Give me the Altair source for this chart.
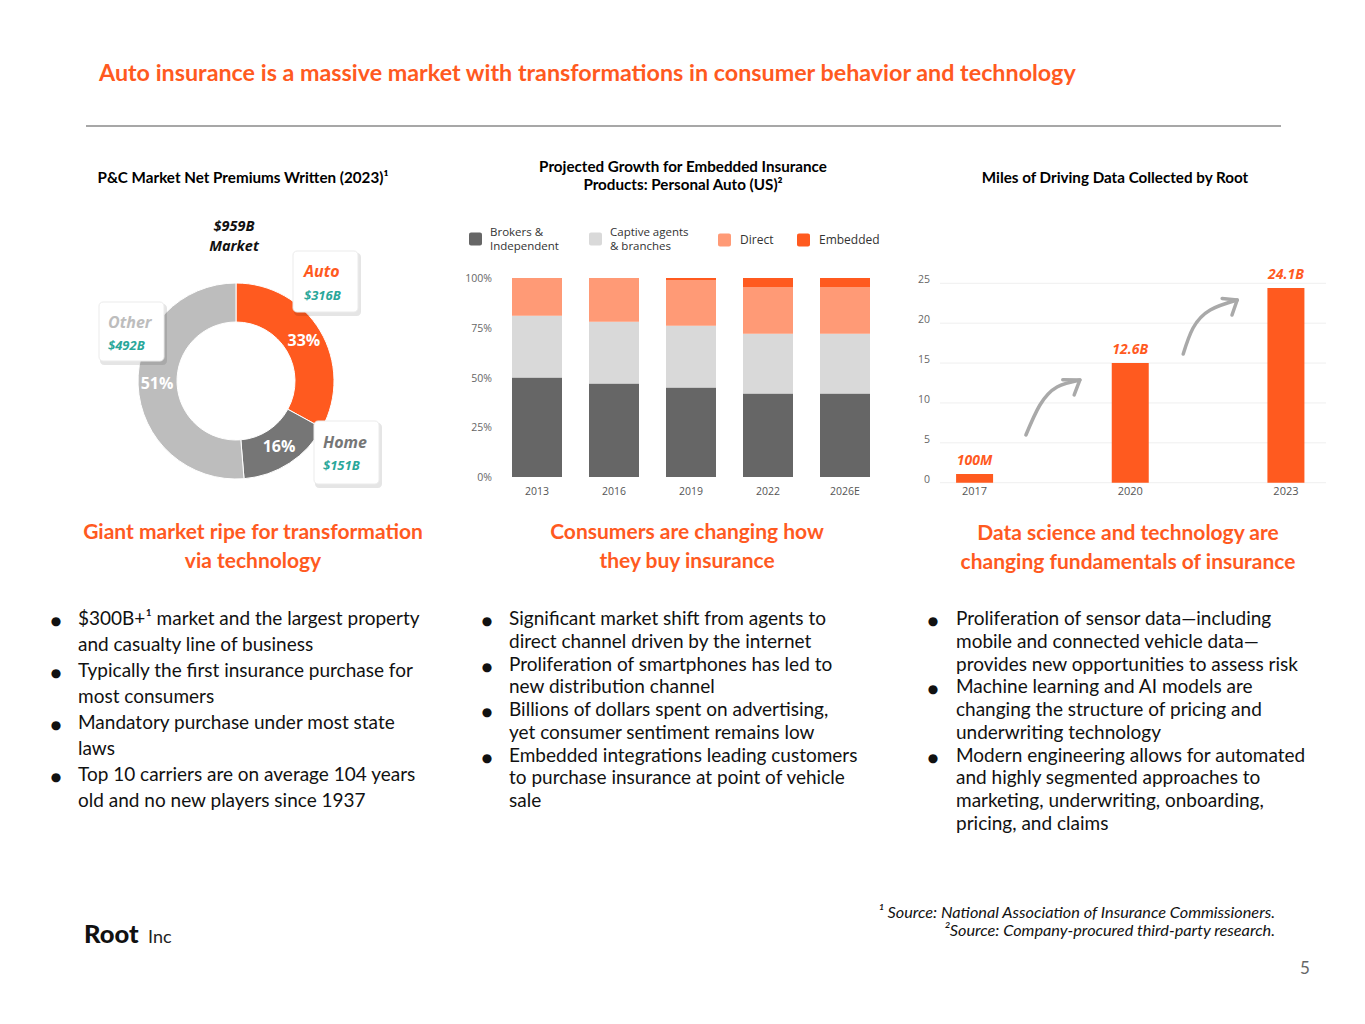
import altair as alt
import pandas as pd

OX, OY = 8, 8


def px(v):
    return v - OX


def py(v):
    return v - OY


ORANGE = "#FF5A1F"
TEAL = "#2AA79A"
BODY_FONT = "Lato"
CHART_FONT = "Open Sans"

# ---------------- data ----------------
seg_names = ["Auto", "Home", "Other"]
seg_values = [316, 151, 492]
seg_pct = ["33%", "16%", "51%"]
seg_colors = [ORANGE, "#767676", "#BDBDBD"]

years = ["2013", "2016", "2019", "2022", "2026E"]
brokers = [50, 47, 45, 42, 42]
captive = [31, 31, 31, 30, 30]
direct = [19, 22, 23, 23.5, 23.5]
embedded = [0, 0, 1, 4.5, 4.5]
channels = ["Brokers & Independent", "Captive agents & branches", "Direct", "Embedded"]
channel_colors = ["#666666", "#D9D9D9", "#FF9A76", ORANGE]
pct_ticks = [0, 25, 50, 75, 100]
pct_labels = ["0%", "25%", "50%", "75%", "100%"]

mile_years = ["2017", "2020", "2023"]
mile_heights = [1.1, 15.0, 24.4]
mile_labels = ["100M", "12.6B", "24.1B"]
mile_ticks = [0, 5, 10, 15, 20, 25]

# decorative curved arrows (in year / value units of the right chart)
arrow_part = ["a1"] * 4 + ["h1"] * 3 + ["a2"] * 4 + ["h2"] * 3
arrow_x = [2017.99, 2018.26, 2018.59, 2019.03, 2018.70, 2019.03, 2018.92,
           2021.02, 2021.21, 2021.54, 2022.06, 2021.77, 2022.06, 2021.96]
arrow_y = [5.98, 9.74, 12.0, 12.88, 12.9, 12.88, 11.0,
           16.14, 19.40, 21.66, 22.91, 23.1, 22.91, 21.02]

left_items = [
    ["$300B+\u00b9  market and the largest property", "and casualty line of business"],
    ["Typically the first insurance purchase for", "most consumers"],
    ["Mandatory purchase under most state", "laws"],
    ["Top 10 carriers are on average 104 years", "old and no new players since 1937"],
]
mid_items = [
    ["Significant market shift from agents to", "direct channel driven by the internet"],
    ["Proliferation of smartphones has led to", "new distribution channel"],
    ["Billions of dollars spent on advertising,", "yet consumer sentiment remains low"],
    ["Embedded integrations leading customers", "to purchase insurance at point of vehicle", "sale"],
]
right_items = [
    ["Proliferation of sensor data\u2014including", "mobile and connected vehicle data\u2014",
     "provides new opportunities to assess risk"],
    ["Machine learning and AI models are", "changing the structure of pricing and",
     "underwriting technology"],
    ["Modern engineering allows for automated", "and highly segmented approaches to",
     "marketing, underwriting, onboarding,", "pricing, and claims"],
]

one = pd.DataFrame({"k": [0]})


def txt(text, x, y, size=13, color="#000000", weight="normal", style="normal",
        align="left", font=BODY_FONT, baseline="alphabetic"):
    kw = dict(text=text, fontSize=size, color=color, fontWeight=weight,
              fontStyle=style, align=align, font=font, baseline=baseline)
    return alt.Chart(one).mark_text(**kw).encode(x=alt.value(px(x)), y=alt.value(py(y)))


def lines(texts, x, y0, lh, **kw):
    return [txt(t, x, y0 + i * lh, **kw) for i, t in enumerate(texts)]


def bullets(items, xb, xt, y0, lh, size):
    out = []
    k = 0
    for item in items:
        out.append(txt("\u25cf", xb, y0 + k * lh, size=12, align="center", font="DejaVu Sans",
                       color="#111111"))
        out += lines(item, xt, y0 + k * lh, lh, size=size, color="#111111")
        k += len(item)
    return out


def box(x1, y1, x2, y2):
    shadow = alt.Chart(one).mark_rect(fill="#000000", opacity=0.10, cornerRadius=4).encode(
        x=alt.value(px(x1 + 1)), x2=alt.value(px(x2 + 3)),
        y=alt.value(py(y1 + 2)), y2=alt.value(py(y2 + 4)))
    card = alt.Chart(one).mark_rect(fill="#FFFFFF", stroke="#EBEBEB", strokeWidth=1,
                                    cornerRadius=4).encode(
        x=alt.value(px(x1)), x2=alt.value(px(x2)),
        y=alt.value(py(y1)), y2=alt.value(py(y2)))
    return [shadow, card]


layers = []

# ---------------- header ----------------
layers.append(txt("Auto insurance is a massive market with transformations in consumer behavior and technology",
                  99, 81, size=23.3, color=ORANGE, weight="bold"))
layers.append(alt.Chart(one).mark_rule(color="#8A8A8A", strokeWidth=1.5).encode(
    x=alt.value(px(86)), x2=alt.value(px(1281)), y=alt.value(py(126))))

# panel titles
layers.append(txt("P&C Market Net Premiums Written (2023)\u00b9", 243, 183, size=15.2, weight="bold", align="center"))
layers += lines(["Projected Growth for Embedded Insurance", "Products: Personal Auto (US)\u00b2"],
                683, 172, 18, size=15.2, weight="bold", align="center")
layers.append(txt("Miles of Driving Data Collected by Root", 1115, 183, size=15.2, weight="bold", align="center"))

# ---------------- donut ----------------
donut_df = pd.DataFrame({"name": seg_names, "value": seg_values, "pct": seg_pct,
                         "idx": list(range(len(seg_names)))})
cx, cy = 236, 381
theta_enc = alt.Theta("value:Q", stack=True)
color_enc = alt.Color("name:N", scale=alt.Scale(domain=seg_names, range=seg_colors), legend=None)
layers.append(alt.Chart(donut_df).mark_arc(innerRadius=59, outerRadius=98, stroke="#FFFFFF",
                                           strokeWidth=1).encode(
    theta=theta_enc, color=color_enc, order=alt.Order("idx:Q"),
    x=alt.value(px(cx)), y=alt.value(py(cy))))
layers.append(alt.Chart(donut_df).mark_text(radius=79, fontSize=16, fontWeight="bold",
                                            color="#FFFFFF", font=CHART_FONT).encode(
    theta=theta_enc, text="pct:N", order=alt.Order("idx:Q"),
    x=alt.value(px(cx)), y=alt.value(py(cy))))

layers += lines(["$959B", "Market"], 234, 231, 19.5, size=14.5, weight="bold", style="italic",
                align="center", font=CHART_FONT, color="#111111")

layers += box(293, 251, 358, 312)
layers += box(99, 302, 164, 361)
layers += box(314, 421, 379, 484)
layers.append(txt("Auto", 304, 277, size=16, weight="bold", style="italic", color=ORANGE, font=CHART_FONT))
layers.append(txt("$316B", 304, 300, size=13, weight="bold", style="italic", color=TEAL, font=CHART_FONT))
layers.append(txt("Other", 108, 328, size=16, weight="bold", style="italic", color="#BDBDBD", font=CHART_FONT))
layers.append(txt("$492B", 108, 350, size=13, weight="bold", style="italic", color=TEAL, font=CHART_FONT))
layers.append(txt("Home", 323, 448, size=16, weight="bold", style="italic", color="#767676", font=CHART_FONT))
layers.append(txt("$151B", 323, 470, size=13, weight="bold", style="italic", color=TEAL, font=CHART_FONT))

# ---------------- stacked bars ----------------
rows = []
for i, yr in enumerate(years):
    for j, (ch, vals) in enumerate(zip(channels, [brokers, captive, direct, embedded])):
        rows.append({"year": yr, "channel": ch, "share": vals[i], "order": j})
stack_df = pd.DataFrame(rows)
xs_mid = alt.Scale(domain=years, range=[px(498.5), px(883.5)], paddingInner=0, paddingOuter=0)
ys_mid = alt.Scale(domain=[0, 100], range=[py(477), py(278)], nice=False)
layers.append(alt.Chart(stack_df).mark_bar(width=50).encode(
    x=alt.X("year:N", scale=xs_mid, axis=None, sort=years),
    y=alt.Y("share:Q", stack=True, scale=ys_mid, axis=None),
    color=alt.Color("channel:N", scale=alt.Scale(domain=channels, range=channel_colors), legend=None),
    order=alt.Order("order:Q", sort="ascending")))

pct_df = pd.DataFrame({"v": pct_ticks, "lab": pct_labels})
layers.append(alt.Chart(pct_df).mark_text(align="right", baseline="middle", fontSize=10.5,
                                          color="#666666", font=CHART_FONT, dy=1).encode(
    y=alt.Y("v:Q", scale=ys_mid, axis=None), x=alt.value(px(492)), text="lab:N"))
yr_df = pd.DataFrame({"year": years})
layers.append(alt.Chart(yr_df).mark_text(align="center", baseline="middle", fontSize=10.5,
                                         color="#555555", font=CHART_FONT).encode(
    x=alt.X("year:N", scale=xs_mid, axis=None, sort=years), y=alt.value(py(492)), text="year:N"))

# legend (manual)
leg_x = [469, 589, 718, 797]
leg_y = [239, 239, 240, 240]
leg_text = [["Brokers &", "Independent"], ["Captive agents", "& branches"], ["Direct"], ["Embedded"]]
for lx, ly, lt, lc in zip(leg_x, leg_y, leg_text, channel_colors):
    layers.append(alt.Chart(one).mark_rect(fill=lc, cornerRadius=2).encode(
        x=alt.value(px(lx)), x2=alt.value(px(lx + 13)),
        y=alt.value(py(ly - 6.5)), y2=alt.value(py(ly + 6.5))))
    if len(lt) > 1:
        layers += lines(lt, lx + 21, ly - 3.5, 14.5, size=11.5, color="#333333", font=CHART_FONT)
    else:
        layers.append(txt(lt[0], lx + 22, ly + 4, size=12, color="#333333", font=CHART_FONT))

# ---------------- miles bars ----------------
miles_df = pd.DataFrame({"year": mile_years, "h": mile_heights, "lab": mile_labels})
xs_r = alt.Scale(domain=mile_years, range=[px(896.75), px(1363.75)], paddingInner=0, paddingOuter=0)
ys_r = alt.Scale(domain=[0, 25], range=[py(482.7), py(283.3)], nice=False)
tick_df = pd.DataFrame({"v": mile_ticks})
layers.append(alt.Chart(tick_df).mark_rule(color="#EFEFEF", strokeWidth=1).encode(
    y=alt.Y("v:Q", scale=ys_r, axis=None), x=alt.value(px(940)), x2=alt.value(px(1326))))
layers.append(alt.Chart(tick_df).mark_text(align="right", baseline="middle", fontSize=10.5,
                                           color="#666666", font=CHART_FONT, dy=-3).encode(
    y=alt.Y("v:Q", scale=ys_r, axis=None), x=alt.value(px(930)), text="v:Q"))
layers.append(alt.Chart(miles_df).mark_bar(width=37, color=ORANGE).encode(
    x=alt.X("year:N", scale=xs_r, axis=None, sort=mile_years),
    y=alt.Y("h:Q", scale=ys_r, axis=None)))
layers.append(alt.Chart(miles_df).mark_text(align="center", baseline="middle", fontSize=14,
                                            fontWeight="bold", fontStyle="italic", color=ORANGE,
                                            font=CHART_FONT, dy=-13).encode(
    x=alt.X("year:N", scale=xs_r, axis=None, sort=mile_years),
    y=alt.Y("h:Q", scale=ys_r, axis=None), text="lab:N"))
layers.append(alt.Chart(miles_df).mark_text(align="center", baseline="middle", fontSize=11,
                                            color="#555555", font=CHART_FONT).encode(
    x=alt.X("year:N", scale=xs_r, axis=None, sort=mile_years),
    y=alt.value(py(492)), text="year:N"))

arrow_df = pd.DataFrame({"part": arrow_part, "ax": arrow_x, "ay": arrow_y,
                         "i": list(range(len(arrow_x)))})
xs_arrow = alt.Scale(domain=[2017, 2023], range=[px(974.5), px(1286)], nice=False, zero=False)
for part in ["a1", "a2"]:
    layers.append(alt.Chart(arrow_df[arrow_df.part == part]).mark_line(
        color="#A9A9A9", strokeWidth=3.5, strokeCap="round", interpolate="natural").encode(
        x=alt.X("ax:Q", scale=xs_arrow, axis=None),
        y=alt.Y("ay:Q", scale=ys_r, axis=None), order="i:Q"))
for part in ["h1", "h2"]:
    layers.append(alt.Chart(arrow_df[arrow_df.part == part]).mark_line(
        color="#A9A9A9", strokeWidth=3.5, strokeCap="round", strokeJoin="round").encode(
        x=alt.X("ax:Q", scale=xs_arrow, axis=None),
        y=alt.Y("ay:Q", scale=ys_r, axis=None), order="i:Q"))

# ---------------- subtitles ----------------
sub_kw = dict(size=21, weight="bold", color=ORANGE, align="center")
layers += lines(["Giant market ripe for transformation", "via technology"], 253, 539, 29, **sub_kw)
layers += lines(["Consumers are changing how", "they buy insurance"], 687, 539, 29, **sub_kw)
layers += lines(["Data science and technology are", "changing fundamentals of insurance"], 1128, 540, 29, **sub_kw)

# ---------------- bullet lists ----------------
layers += bullets(left_items, 56, 78, 625, 26, 19)
layers += bullets(mid_items, 487, 509, 625, 22.75, 19)
layers += bullets(right_items, 933, 956, 625, 22.75, 19)

# ---------------- footer ----------------
layers.append(txt("\u00b9 Source: National Association of Insurance Commissioners.", 1275, 918,
                  size=16.3, style="italic", align="right", color="#111111"))
layers.append(txt("\u00b2Source: Company-procured third-party research.", 1275, 936,
                  size=16.3, style="italic", align="right", color="#111111"))
layers.append(txt("Root", 84, 943, size=25.5, weight=900, color="#111111"))
layers.append(txt("Inc", 148, 943, size=18, color="#222222"))
layers.append(txt("5", 1305, 974, size=17, color="#666666", align="center"))

chart = alt.layer(*layers).resolve_scale(
    x="independent", y="independent", color="independent", theta="independent"
).properties(
    width=1349, height=1008, autosize=alt.AutoSizeParams(type="none"), padding=0,
    background="#FFFFFF"
).configure_view(stroke=None)

chart.save("out.html", embed_options={"renderer": "svg", "actions": False})
